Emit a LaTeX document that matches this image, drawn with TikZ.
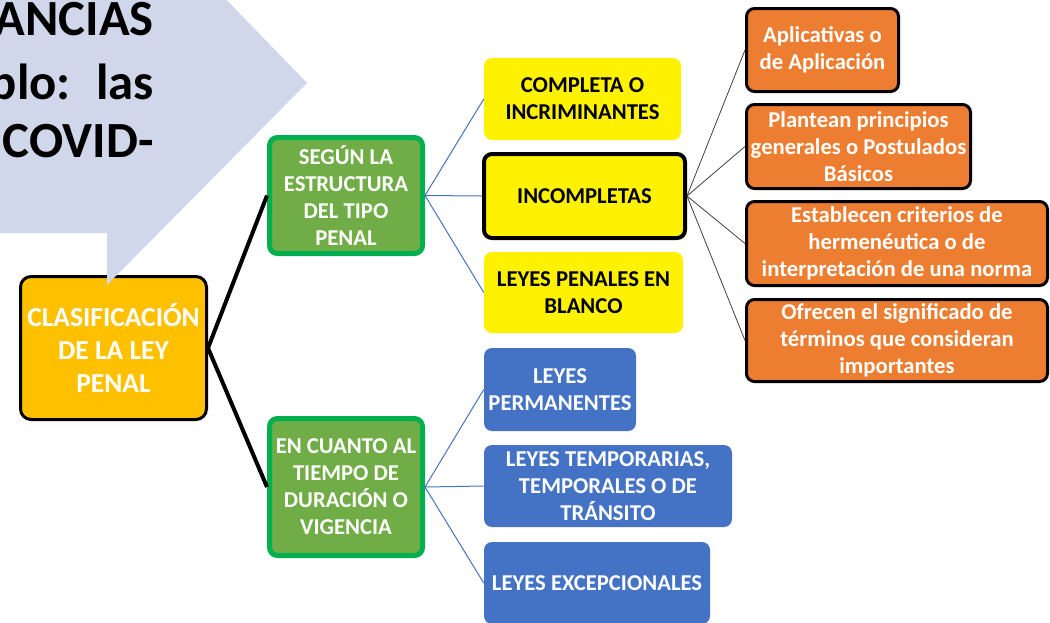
\documentclass[tikz,border=0pt]{standalone}
\usepackage{fontspec}
\setmainfont{Carlito}
\definecolor{calloutbg}{HTML}{D1D7EB}
\definecolor{mainfill}{HTML}{FFC000}
\definecolor{greenfill}{HTML}{70AD47}
\definecolor{greenline}{HTML}{00B050}
\definecolor{bluefill}{HTML}{4472C4}
\definecolor{orangefill}{HTML}{ED7D31}
\definecolor{twig}{HTML}{404040}
\tikzset{
  box/.style={rectangle, rounded corners=6pt, inner sep=0pt, align=center,
    font=\fontsize{17}{20.25}\selectfont\bfseries},
  mainbox/.style={box, rounded corners=8pt, fill=mainfill, draw=black,
    line width=2.25pt, text=white, font=\fontsize{20.6}{24.75}\selectfont\bfseries},
  groupbox/.style={box, fill=greenfill, draw=greenline, line width=3.75pt, text=white},
  yellowbox/.style={box, fill=yellow, text=black},
  bluebox/.style={box, fill=bluefill, text=white},
  orangebox/.style={box, fill=orangefill, draw=black, line width=2.25pt, text=white},
  trunk/.style={line width=3pt, black},
  branch/.style={line width=0.75pt, bluefill},
  leaf/.style={line width=0.6pt, twig}
}
\begin{document}
\begin{tikzpicture}[x=0.75pt, y=-0.75pt]
  \useasboundingbox (0,0) rectangle (1050,622);

  \node[mainbox, minimum width=139.5pt, minimum height=107.25pt] (ley) at (113.5, 348)
    {CLASIFICACIÓN\\DE LA LEY\\PENAL};

  \node[groupbox, minimum width=114.75pt, minimum height=87pt] (estructura) at (346, 195.5)
    {SEGÚN LA\\ESTRUCTURA\\DEL TIPO\\PENAL};
  \node[groupbox, minimum width=114.75pt, minimum height=102.75pt] (tiempo) at (346, 487)
    {EN CUANTO AL\\TIEMPO DE\\DURACIÓN O\\VIGENCIA};

  \node[yellowbox, minimum width=147.75pt, minimum height=61.5pt] (completa) at (582.5, 99)
    {COMPLETA O\\INCRIMINANTES};
  \node[yellowbox, draw=black, line width=3pt, minimum width=150.75pt, minimum height=63pt] (incompletas) at (584.5, 196)
    {INCOMPLETAS};
  \node[yellowbox, minimum width=149.25pt, minimum height=60.75pt] (blanco) at (583.5, 292.5)
    {LEYES PENALES EN\\BLANCO};

  \node[bluebox, minimum width=114pt, minimum height=62.25pt] (permanentes) at (560, 389.5)
    {LEYES\\PERMANENTES};
  \node[bluebox, minimum width=186pt, minimum height=61.5pt] (temporarias) at (608, 486)
    {LEYES TEMPORARIAS,\\TEMPORALES O DE\\TRÁNSITO};
  \node[bluebox, minimum width=169.5pt, minimum height=61.5pt] (excepcionales) at (597, 583)
    {LEYES EXCEPCIONALES};

  \node[orangebox, minimum width=114pt, minimum height=62.25pt] (aplicativas) at (822.5, 50)
    {Aplicativas o\\de Aplicación};
  \node[orangebox, minimum width=168pt, minimum height=63pt] (plantean) at (858.5, 146.5)
    {Plantean principios\\generales o Postulados\\Básicos};
  \node[orangebox, minimum width=225.75pt, minimum height=63pt] (establecen) at (897, 243.5)
    {Establecen criterios de\\hermenéutica o de\\interpretación de una norma};
  \node[orangebox, minimum width=225.75pt, minimum height=61.5pt] (ofrecen) at (897, 340.5)
    {Ofrecen el significado de\\términos que consideran\\importantes};

  \draw[trunk] (ley.east) -- (estructura.west);
  \draw[trunk] (ley.east) -- (tiempo.west);

  \draw[branch] (estructura.east) -- (completa.west);
  \draw[branch] (estructura.east) -- (incompletas.west);
  \draw[branch] (estructura.east) -- (blanco.west);
  \draw[branch] (tiempo.east) -- (permanentes.west);
  \draw[branch] (tiempo.east) -- (temporarias.west);
  \draw[branch] (tiempo.east) -- (excepcionales.west);

  \draw[leaf] (incompletas.east) -- (aplicativas.west);
  \draw[leaf] (incompletas.east) -- (plantean.west);
  \draw[leaf] (incompletas.east) -- (establecen.west);
  \draw[leaf] (incompletas.east) -- (ofrecen.west);

  \fill[calloutbg] (0,-10) -- (217,-10) -- (307,83) -- (107,285) -- (107,233) -- (0,233) -- cycle;
  \begin{scope}[font=\fontsize{38}{45}\selectfont\bfseries]
    \node[anchor=base east, inner sep=0pt] (linea1) at (154, 35) {ANCIAS};
    \node[anchor=base east, inner sep=0pt] (linea2) at (154, 99) {blo:\hspace{0.5em}las};
    \node[anchor=base east, inner sep=0pt] (linea3) at (154, 157) {COVID-};
  \end{scope}
\end{tikzpicture}
\end{document}
